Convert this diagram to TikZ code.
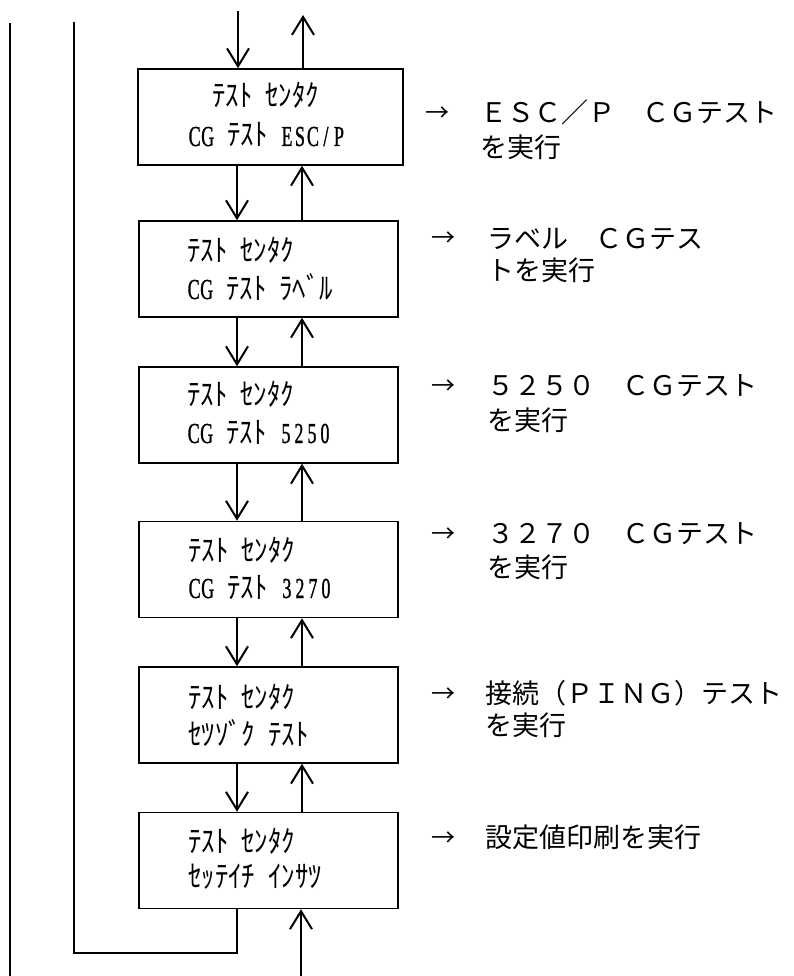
\documentclass[tikz,border=0pt]{standalone}
\usepackage{fontspec}
\usetikzlibrary{arrows.meta}
\newfontfamily\kana{Noto Sans CJK JP}
\newfontfamily\hkana[FakeStretch=0.88]{Noto Sans CJK JP}
\newfontfamily\latc[FakeStretch=0.62,FakeBold=1]{Liberation Serif}
\newcommand{\hws}{\hspace{13pt}}
\newcommand{\m}[1]{\makebox[13pt]{\latc\fontsize{29}{29}\selectfont #1}}
\begin{document}
\begin{tikzpicture}[x=1pt,y=-1pt,
  box/.style={draw,line width=1.5pt,minimum width=259pt,minimum height=96pt,inner sep=0pt},
  arr/.style={line width=2pt,-{Straight Barb[length=18pt,width=22pt,line width=2pt]}},
  wire/.style={line width=1.5pt},
  boxtxt/.style={anchor=base west,inner sep=0pt,font=\hkana\fontsize{30.5}{30}\selectfont},
  lbl/.style={anchor=base west,inner sep=0pt,font=\kana\fontsize{27}{27}\selectfont},
  rarr/.style={anchor=base,inner sep=0pt,font=\kana\fontsize{24}{24}\selectfont}]
\useasboundingbox (0,0) rectangle (793,976);
% boxes
\node[box,minimum width=265pt] (b1) at (270.5,117) {};
\node[box] (b2) at (268.5,269) {};
\node[box] (b3) at (268.5,415) {};
\node[box] (b4) at (268.5,569.5) {};
\node[box] (b5) at (268.5,715) {};
\node[box] (b6) at (268.5,860.5) {};
% box texts
\node[boxtxt] (t1a) at (212,107) {ﾃｽﾄ\hws ｾﾝﾀｸ};
\node[boxtxt] (t1b) at (188,146) {\m{C}\m{G}\hws ﾃｽﾄ\hws\m{E}\m{S}\m{C}\m{/}\m{P}};
\node[boxtxt] (t2a) at (187,261) {ﾃｽﾄ\hws ｾﾝﾀｸ};
\node[boxtxt] (t2b) at (187,299) {\m{C}\m{G}\hws ﾃｽﾄ\hws ﾗﾍﾞﾙ};
\node[boxtxt] (t3a) at (187,405) {ﾃｽﾄ\hws ｾﾝﾀｸ};
\node[boxtxt] (t3b) at (187,443) {\m{C}\m{G}\hws ﾃｽﾄ\hws\m{5}\m{2}\m{5}\m{0}};
\node[boxtxt] (t4a) at (188,561) {ﾃｽﾄ\hws ｾﾝﾀｸ};
\node[boxtxt] (t4b) at (188,598) {\m{C}\m{G}\hws ﾃｽﾄ\hws\m{3}\m{2}\m{7}\m{0}};
\node[boxtxt] (t5a) at (188,708) {ﾃｽﾄ\hws ｾﾝﾀｸ};
\node[boxtxt] (t5b) at (188,745) {ｾﾂｿﾞｸ\hws ﾃｽﾄ};
\node[boxtxt] (t6a) at (188,852) {ﾃｽﾄ\hws ｾﾝﾀｸ};
\node[boxtxt] (t6b) at (188,887) {ｾｯﾃｲﾁ\hws ｲﾝｻﾂ};
% right labels
\node[rarr] (a1) at (437,122) {→};
\node[lbl] (r1a) at (480,123) {ＥＳＣ／Ｐ　ＣＧテスト};
\node[lbl] (r1b) at (480,158) {を実行};
\node[rarr] (a2) at (443,247) {→};
\node[lbl] (r2a) at (487,248) {ラベル　ＣＧテス};
\node[lbl] (r2b) at (487,280) {トを実行};
\node[rarr] (a3) at (443,394) {→};
\node[lbl] (r3a) at (487,395) {５２５０　ＣＧテスト};
\node[lbl] (r3b) at (487,430) {を実行};
\node[rarr] (a4) at (443,542) {→};
\node[lbl] (r4a) at (487,543) {３２７０　ＣＧテスト};
\node[lbl] (r4b) at (487,577) {を実行};
\node[rarr] (a5) at (443,702) {→};
\node[lbl] (r5a) at (485,703) {接続（ＰＩＮＧ）テスト};
\node[lbl] (r5b) at (485,735) {を実行};
\node[rarr] (a6) at (443,846) {→};
\node[lbl] (r6a) at (485,847) {設定値印刷を実行};
% helper coordinates
\coordinate (dx) at (237,0);
\coordinate (ux) at (302,0);
\coordinate (tin) at (238,11);
\coordinate (tout) at (303,15);
\coordinate (bin) at (301,976);
\coordinate (rc) at (74,953);
\coordinate (ret) at (74,22);
\coordinate (o1) at (10,23);
\coordinate (o2) at (10,976);
% connectors
\draw[arr] (tin) -- (b1.north -| tin);
\draw[arr] (b1.north -| tout) -- (tout);
\draw[arr] (b1.south -| dx) -- (b2.north -| dx);
\draw[arr] (b2.north -| ux) -- (b1.south -| ux);
\draw[arr] (b2.south -| dx) -- (b3.north -| dx);
\draw[arr] (b3.north -| ux) -- (b2.south -| ux);
\draw[arr] (b3.south -| dx) -- (b4.north -| dx);
\draw[arr] (b4.north -| ux) -- (b3.south -| ux);
\draw[arr] (b4.south -| dx) -- (b5.north -| dx);
\draw[arr] (b5.north -| ux) -- (b4.south -| ux);
\draw[arr] (b5.south -| dx) -- (b6.north -| dx);
\draw[arr] (b6.north -| ux) -- (b5.south -| ux);
\draw[arr] (bin) -- (b6.south -| bin);
\draw[wire] (b6.south -| dx) |- (rc) -- (ret);
\draw[wire] (o1) -- (o2);
\end{tikzpicture}
\end{document}
